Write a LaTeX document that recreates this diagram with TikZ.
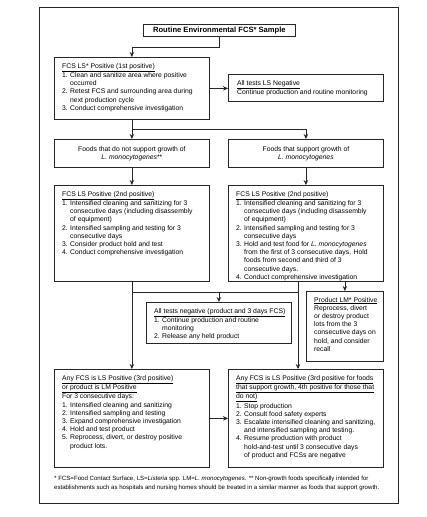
\documentclass[tikz,border=0pt]{standalone}
\usepackage{fontspec}
\setmainfont{Liberation Sans}
\usetikzlibrary{arrows.meta}
\newcommand{\boxfont}{\fontsize{6.8}{8.2}\selectfont}
\newcommand{\itm}[1]{\makebox[8pt][l]{#1}}
\newcommand{\cont}{\hspace*{8pt}}
\begin{document}
\begin{tikzpicture}[x=1pt, y=-1pt, >={Stealth[length=5pt,width=4.5pt]},
    box/.style={draw=black!85, line width=0.8pt, anchor=north west, inner sep=0pt},
    txt/.style={anchor=north west, align=left, inner sep=0pt, font=\boxfont},
    link/.style={line width=0.8pt, draw=black!85}]
        \useasboundingbox (0,0) rectangle (427,517);
        % --- Khung ngoài ---
        \draw[line width=0.8pt, black!85] (39,7) rectangle (398,503);

        % --- Tiêu đề ---
        \node[box, minimum width=152pt, minimum height=12pt, font=\bfseries\fontsize{7.6}{9}\selectfont]
            (title) at (143,24) {Routine Environmental FCS* Sample};

        % --- Lần dương tính thứ nhất ---
        \node[box, minimum width=155pt, minimum height=62pt] (first) at (54,57) {};
        \node[txt] (firstT) at ([shift={(8,6)}]first.north west) {\underline{FCS LS* Positive (1st positive)}\\
            \itm{1.}Clean and sanitize area where positive\\
            \cont occurred\\
            \itm{2.}Retest FCS and surrounding area during\\
            \cont next production cycle\\
            \itm{3.}Conduct comprehensive investigation};

        \node[box, minimum width=155pt, minimum height=27pt] (negA) at (228,74) {};
        \node[txt] (negAT) at ([shift={(9,6)}]negA.north west) {\underline{All tests LS Negative}\\
            Continue production and routine monitoring};

        % --- Hai nhánh thực phẩm ---
        \node[box, minimum width=155pt, minimum height=28pt, align=center, font=\boxfont]
            (foodsNo) at (54,139) {Foods that do not support growth of\\ \textit{L. monocytogenes}**};
        \node[box, minimum width=155pt, minimum height=28pt, align=center, font=\boxfont]
            (foodsYes) at (228,139) {Foods that support growth of\\ \textit{L. monocytogenes}};

        % --- Lần dương tính thứ hai ---
        \node[box, minimum width=155pt, minimum height=96pt] (secondNo) at (54,185) {};
        \node[txt] (secondNoT) at ([shift={(8,6)}]secondNo.north west) {\underline{FCS LS Positive (2nd positive)}\\
            \itm{1.}Intensified cleaning and sanitizing for 3\\
            \cont consecutive days (including disassembly\\
            \cont of equipment)\\
            \itm{2.}Intensified sampling and testing for 3\\
            \cont consecutive days\\
            \itm{3.}Consider product hold and test\\
            \itm{4.}Conduct comprehensive investigation};

        \node[box, minimum width=155pt, minimum height=96pt] (secondYes) at (228,185) {};
        \node[txt] (secondYesT) at ([shift={(8,6)}]secondYes.north west) {\underline{FCS LS Positive (2nd positive)}\\
            \itm{1.}Intensified cleaning and sanitizing for 3\\
            \cont consecutive days (including disassembly\\
            \cont of equipment)\\
            \itm{2.}Intensified sampling and testing for 3\\
            \cont consecutive days\\
            \itm{3.}Hold and test food for \textit{L. monocytogenes}\\
            \cont from the first of 3 consecutive days. Hold\\
            \cont foods from second and third of 3\\
            \cont consecutive days.\\
            \itm{4.}Conduct comprehensive investigation};

        % --- Kết quả âm tính / sản phẩm dương tính ---
        \node[box, minimum width=145pt, minimum height=41pt] (negB) at (146,302) {};
        \node[txt] (negBT) at ([shift={(8,6)}]negB.north west) {\underline{All tests negative (product and 3 days FCS)}\\
            \itm{1.}Continue production and routine\\
            \cont monitoring\\
            \itm{2.}Release any held product};

        \node[box, minimum width=77pt, minimum height=70pt] (lmPos) at (306,291) {};
        \node[txt] (lmPosT) at ([shift={(8,6)}]lmPos.north west) {\underline{Product LM* Positive}\\
            Reprocess, divert\\ or destroy product\\ lots from the 3\\
            consecutive days on\\ hold, and consider\\ recall};

        % --- Lần dương tính thứ ba ---
        \node[box, minimum width=155pt, minimum height=98pt] (thirdNo) at (54,369) {};
        \node[txt] (thirdNoT) at ([shift={(8,6)}]thirdNo.north west) {\underline{Any FCS is LS Positive (3rd positive)}\\
            \underline{or product is LM Positive}\\
            For 3 consecutive days:\\
            \itm{1.}Intensified cleaning and sanitizing\\
            \itm{2.}Intensified sampling and testing\\
            \itm{3.}Expand comprehensive investigation\\
            \itm{4.}Hold and test product\\
            \itm{5.}Reprocess, divert, or destroy positive\\
            \cont product lots.};

        \node[box, minimum width=155pt, minimum height=98pt] (thirdYes) at (228,369) {};
        \node[txt] (thirdYesT) at ([shift={(8,6)}]thirdYes.north west) {\underline{Any FCS is LS Positive (3rd positive for foods}\\
            \underline{that support growth, 4th positive for those that}\\
            \underline{do not)}\\
            \itm{1.}Stop production\\
            \itm{2.}Consult food safety experts\\
            \itm{3.}Escalate intensified cleaning and sanitizing,\\
            \cont and intensified sampling and testing.\\
            \itm{4.}Resume production with product\\
            \cont hold-and-test until 3 consecutive days\\
            \cont of product and FCSs are negative};

        % --- Chú thích ---
        \node[anchor=north west, align=left, inner sep=0pt, font=\fontsize{6.1}{8.7}\selectfont] (note) at (54,476)
            {* FCS=Food Contact Surface, LS=\textit{Listeria} spp. LM=\textit{L. monocytogenes}. ** Non-growth foods specifically intended for\\
            establishments such as hospitals and nursing homes should be treated in a similar manner as foods that support growth.};

        % --- Các mũi tên ---
        \coordinate (forkA) at (0,129);
        \coordinate (forkB) at (0,292);
        \coordinate (drop) at (298,0);
        \draw[link, ->] (title.south) -- ++(0,11) -| (first.north);
        \draw[link, ->] (first.east) -- (first.east -| negA.west);
        \draw[link, ->] (first.south) -- (foodsNo.north);
        \draw[link, ->] (first.south |- forkA) -| (foodsYes.north);
        \draw[link, ->] (foodsNo) -- (secondNo);
        \draw[link, ->] (foodsYes) -- (secondYes);
        \draw[link, ->] (secondNo) -- (thirdNo);
        \draw[link, ->] (secondYes.south -| drop) -- (thirdYes.north -| drop);
        \draw[link] (secondNo.south |- forkB) -- (drop |- forkB);
        \draw[link, ->] (negB.north |- forkB) -- (negB.north);
        \draw[link, ->] (secondYes.south -| lmPos.north) -- (lmPos.north);
        \draw[link, ->] (thirdNo.east) -- (thirdNo.east -| thirdYes.west);
    \end{tikzpicture}
\end{document}
